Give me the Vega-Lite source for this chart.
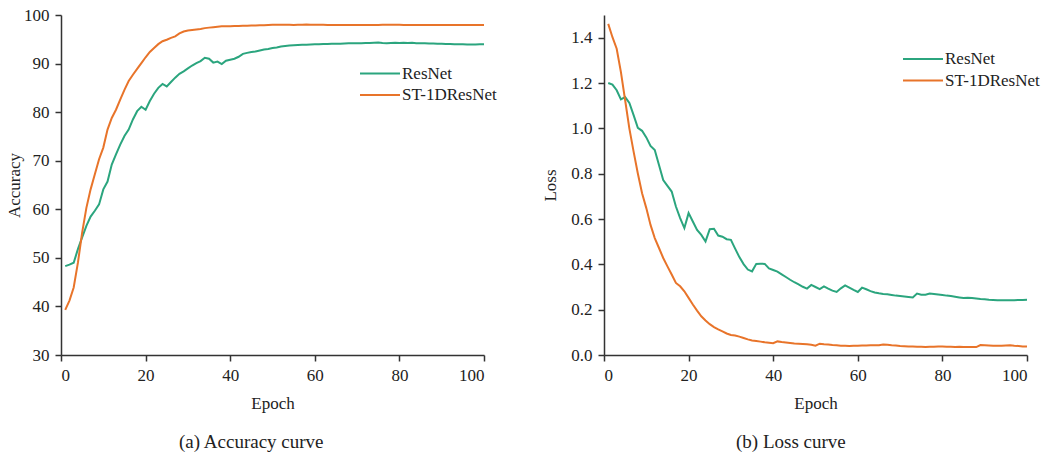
{
"$schema": "https://vega.github.io/schema/vega-lite/v6.json",
"background": "white",
"padding": {"left": 5, "top": 6, "right": 5, "bottom": 5},
"config": {
 "font": "Liberation Serif",
 "view": {"stroke": null},
 "axis": {"grid": false, "domainColor": "#333", "tickColor": "#333", "domainWidth": 1.5, "tickWidth": 1.5, "tickSize": 6, "labelFont": "Liberation Serif", "labelFontSize": 17, "labelColor": "#222", "titleFont": "Liberation Serif", "titleFontSize": 17, "titleFontWeight": "normal", "titleColor": "#222", "labelPadding": 6},
 "legend": {"title": null, "symbolType": "stroke", "symbolSize": 1600, "symbolStrokeWidth": 2, "clipHeight": 20, "rowPadding": 1.5, "labelOffset": 1, "labelFontSize": 17, "labelFont": "Liberation Serif", "labelColor": "#222", "padding": 0},
 "title": {"font": "Liberation Serif", "fontSize": 19, "fontWeight": "normal", "color": "#222"}
},
"datasets": {"d": [
{"epoch":1,"model":"ResNet","acc":48.3,"loss":1.200},{"epoch":2,"model":"ResNet","acc":48.6,"loss":1.193},{"epoch":3,"model":"ResNet","acc":49.0,"loss":1.168},{"epoch":4,"model":"ResNet","acc":51.8,"loss":1.128},{"epoch":5,"model":"ResNet","acc":54.2,"loss":1.138},{"epoch":6,"model":"ResNet","acc":56.6,"loss":1.112},{"epoch":7,"model":"ResNet","acc":58.5,"loss":1.058},{"epoch":8,"model":"ResNet","acc":59.7,"loss":1.002},{"epoch":9,"model":"ResNet","acc":61.0,"loss":0.989},{"epoch":10,"model":"ResNet","acc":64.1,"loss":0.960},
{"epoch":11,"model":"ResNet","acc":65.7,"loss":0.922},{"epoch":12,"model":"ResNet","acc":69.2,"loss":0.904},{"epoch":13,"model":"ResNet","acc":71.3,"loss":0.838},{"epoch":14,"model":"ResNet","acc":73.3,"loss":0.772},{"epoch":15,"model":"ResNet","acc":75.1,"loss":0.746},{"epoch":16,"model":"ResNet","acc":76.4,"loss":0.721},{"epoch":17,"model":"ResNet","acc":78.5,"loss":0.655},{"epoch":18,"model":"ResNet","acc":80.2,"loss":0.604},{"epoch":19,"model":"ResNet","acc":81.1,"loss":0.560},{"epoch":20,"model":"ResNet","acc":80.5,"loss":0.626},
{"epoch":21,"model":"ResNet","acc":82.3,"loss":0.589},{"epoch":22,"model":"ResNet","acc":83.8,"loss":0.552},{"epoch":23,"model":"ResNet","acc":85.0,"loss":0.530},{"epoch":24,"model":"ResNet","acc":85.8,"loss":0.501},{"epoch":25,"model":"ResNet","acc":85.3,"loss":0.555},{"epoch":26,"model":"ResNet","acc":86.2,"loss":0.557},{"epoch":27,"model":"ResNet","acc":87.1,"loss":0.527},{"epoch":28,"model":"ResNet","acc":87.9,"loss":0.522},{"epoch":29,"model":"ResNet","acc":88.4,"loss":0.511},{"epoch":30,"model":"ResNet","acc":89.0,"loss":0.508},
{"epoch":31,"model":"ResNet","acc":89.6,"loss":0.469},{"epoch":32,"model":"ResNet","acc":90.1,"loss":0.432},{"epoch":33,"model":"ResNet","acc":90.5,"loss":0.401},{"epoch":34,"model":"ResNet","acc":91.2,"loss":0.377},{"epoch":35,"model":"ResNet","acc":91.0,"loss":0.369},{"epoch":36,"model":"ResNet","acc":90.2,"loss":0.402},{"epoch":37,"model":"ResNet","acc":90.4,"loss":0.403},{"epoch":38,"model":"ResNet","acc":89.9,"loss":0.402},{"epoch":39,"model":"ResNet","acc":90.6,"loss":0.382},{"epoch":40,"model":"ResNet","acc":90.8,"loss":0.375},
{"epoch":41,"model":"ResNet","acc":91.0,"loss":0.368},{"epoch":42,"model":"ResNet","acc":91.4,"loss":0.356},{"epoch":43,"model":"ResNet","acc":92.0,"loss":0.344},{"epoch":44,"model":"ResNet","acc":92.2,"loss":0.332},{"epoch":45,"model":"ResNet","acc":92.4,"loss":0.321},{"epoch":46,"model":"ResNet","acc":92.5,"loss":0.312},{"epoch":47,"model":"ResNet","acc":92.7,"loss":0.301},{"epoch":48,"model":"ResNet","acc":92.9,"loss":0.293},{"epoch":49,"model":"ResNet","acc":93.0,"loss":0.309},{"epoch":50,"model":"ResNet","acc":93.2,"loss":0.300},
{"epoch":51,"model":"ResNet","acc":93.3,"loss":0.291},{"epoch":52,"model":"ResNet","acc":93.5,"loss":0.303},{"epoch":53,"model":"ResNet","acc":93.6,"loss":0.293},{"epoch":54,"model":"ResNet","acc":93.7,"loss":0.284},{"epoch":55,"model":"ResNet","acc":93.75,"loss":0.278},{"epoch":56,"model":"ResNet","acc":93.8,"loss":0.294},{"epoch":57,"model":"ResNet","acc":93.85,"loss":0.307},{"epoch":58,"model":"ResNet","acc":93.9,"loss":0.297},{"epoch":59,"model":"ResNet","acc":93.95,"loss":0.287},{"epoch":60,"model":"ResNet","acc":94.0,"loss":0.278},
{"epoch":61,"model":"ResNet","acc":94.0,"loss":0.297},{"epoch":62,"model":"ResNet","acc":94.05,"loss":0.290},{"epoch":63,"model":"ResNet","acc":94.05,"loss":0.282},{"epoch":64,"model":"ResNet","acc":94.1,"loss":0.276},{"epoch":65,"model":"ResNet","acc":94.1,"loss":0.272},{"epoch":66,"model":"ResNet","acc":94.1,"loss":0.269},{"epoch":67,"model":"ResNet","acc":94.15,"loss":0.268},{"epoch":68,"model":"ResNet","acc":94.2,"loss":0.265},{"epoch":69,"model":"ResNet","acc":94.2,"loss":0.262},{"epoch":70,"model":"ResNet","acc":94.2,"loss":0.260},
{"epoch":71,"model":"ResNet","acc":94.2,"loss":0.258},{"epoch":72,"model":"ResNet","acc":94.25,"loss":0.256},{"epoch":73,"model":"ResNet","acc":94.25,"loss":0.254},{"epoch":74,"model":"ResNet","acc":94.3,"loss":0.271},{"epoch":75,"model":"ResNet","acc":94.35,"loss":0.266},{"epoch":76,"model":"ResNet","acc":94.25,"loss":0.266},{"epoch":77,"model":"ResNet","acc":94.2,"loss":0.271},{"epoch":78,"model":"ResNet","acc":94.25,"loss":0.269},{"epoch":79,"model":"ResNet","acc":94.3,"loss":0.267},{"epoch":80,"model":"ResNet","acc":94.25,"loss":0.265},
{"epoch":81,"model":"ResNet","acc":94.3,"loss":0.262},{"epoch":82,"model":"ResNet","acc":94.25,"loss":0.260},{"epoch":83,"model":"ResNet","acc":94.3,"loss":0.257},{"epoch":84,"model":"ResNet","acc":94.2,"loss":0.254},{"epoch":85,"model":"ResNet","acc":94.2,"loss":0.251},{"epoch":86,"model":"ResNet","acc":94.2,"loss":0.253},{"epoch":87,"model":"ResNet","acc":94.15,"loss":0.251},{"epoch":88,"model":"ResNet","acc":94.15,"loss":0.249},{"epoch":89,"model":"ResNet","acc":94.1,"loss":0.247},{"epoch":90,"model":"ResNet","acc":94.1,"loss":0.246},
{"epoch":91,"model":"ResNet","acc":94.05,"loss":0.244},{"epoch":92,"model":"ResNet","acc":94.05,"loss":0.243},{"epoch":93,"model":"ResNet","acc":94.0,"loss":0.242},{"epoch":94,"model":"ResNet","acc":94.0,"loss":0.242},{"epoch":95,"model":"ResNet","acc":94.0,"loss":0.241},{"epoch":96,"model":"ResNet","acc":93.95,"loss":0.241},{"epoch":97,"model":"ResNet","acc":93.95,"loss":0.242},{"epoch":98,"model":"ResNet","acc":93.95,"loss":0.243},{"epoch":99,"model":"ResNet","acc":94.0,"loss":0.243},{"epoch":100,"model":"ResNet","acc":94.0,"loss":0.244},
{"epoch":1,"model":"ST-1DResNet","acc":39.3,"loss":1.461},{"epoch":2,"model":"ST-1DResNet","acc":41.2,"loss":1.402},{"epoch":3,"model":"ST-1DResNet","acc":43.9,"loss":1.351},{"epoch":4,"model":"ST-1DResNet","acc":49.0,"loss":1.248},{"epoch":5,"model":"ST-1DResNet","acc":55.2,"loss":1.124},{"epoch":6,"model":"ST-1DResNet","acc":60.3,"loss":0.999},{"epoch":7,"model":"ST-1DResNet","acc":64.1,"loss":0.897},{"epoch":8,"model":"ST-1DResNet","acc":67.2,"loss":0.801},{"epoch":9,"model":"ST-1DResNet","acc":70.3,"loss":0.714},{"epoch":10,"model":"ST-1DResNet","acc":72.7,"loss":0.648},
{"epoch":11,"model":"ST-1DResNet","acc":76.4,"loss":0.574},{"epoch":12,"model":"ST-1DResNet","acc":78.8,"loss":0.516},{"epoch":13,"model":"ST-1DResNet","acc":80.5,"loss":0.472},{"epoch":14,"model":"ST-1DResNet","acc":82.6,"loss":0.428},{"epoch":15,"model":"ST-1DResNet","acc":84.6,"loss":0.391},{"epoch":16,"model":"ST-1DResNet","acc":86.4,"loss":0.355},{"epoch":17,"model":"ST-1DResNet","acc":87.7,"loss":0.318},{"epoch":18,"model":"ST-1DResNet","acc":88.9,"loss":0.303},{"epoch":19,"model":"ST-1DResNet","acc":90.1,"loss":0.281},{"epoch":20,"model":"ST-1DResNet","acc":91.3,"loss":0.252},
{"epoch":21,"model":"ST-1DResNet","acc":92.4,"loss":0.223},{"epoch":22,"model":"ST-1DResNet","acc":93.2,"loss":0.196},{"epoch":23,"model":"ST-1DResNet","acc":94.0,"loss":0.171},{"epoch":24,"model":"ST-1DResNet","acc":94.6,"loss":0.152},{"epoch":25,"model":"ST-1DResNet","acc":94.9,"loss":0.136},{"epoch":26,"model":"ST-1DResNet","acc":95.3,"loss":0.123},{"epoch":27,"model":"ST-1DResNet","acc":95.6,"loss":0.113},{"epoch":28,"model":"ST-1DResNet","acc":96.2,"loss":0.104},{"epoch":29,"model":"ST-1DResNet","acc":96.6,"loss":0.095},{"epoch":30,"model":"ST-1DResNet","acc":96.8,"loss":0.088},
{"epoch":31,"model":"ST-1DResNet","acc":96.9,"loss":0.086},{"epoch":32,"model":"ST-1DResNet","acc":97.0,"loss":0.081},{"epoch":33,"model":"ST-1DResNet","acc":97.1,"loss":0.075},{"epoch":34,"model":"ST-1DResNet","acc":97.3,"loss":0.069},{"epoch":35,"model":"ST-1DResNet","acc":97.4,"loss":0.064},{"epoch":36,"model":"ST-1DResNet","acc":97.5,"loss":0.062},{"epoch":37,"model":"ST-1DResNet","acc":97.6,"loss":0.059},{"epoch":38,"model":"ST-1DResNet","acc":97.7,"loss":0.056},{"epoch":39,"model":"ST-1DResNet","acc":97.7,"loss":0.054},{"epoch":40,"model":"ST-1DResNet","acc":97.7,"loss":0.052},
{"epoch":41,"model":"ST-1DResNet","acc":97.75,"loss":0.060},{"epoch":42,"model":"ST-1DResNet","acc":97.75,"loss":0.057},{"epoch":43,"model":"ST-1DResNet","acc":97.8,"loss":0.055},{"epoch":44,"model":"ST-1DResNet","acc":97.8,"loss":0.053},{"epoch":45,"model":"ST-1DResNet","acc":97.85,"loss":0.051},{"epoch":46,"model":"ST-1DResNet","acc":97.85,"loss":0.050},{"epoch":47,"model":"ST-1DResNet","acc":97.9,"loss":0.049},{"epoch":48,"model":"ST-1DResNet","acc":97.9,"loss":0.047},{"epoch":49,"model":"ST-1DResNet","acc":97.95,"loss":0.045},{"epoch":50,"model":"ST-1DResNet","acc":98.0,"loss":0.041},
{"epoch":51,"model":"ST-1DResNet","acc":98.0,"loss":0.050},{"epoch":52,"model":"ST-1DResNet","acc":98.0,"loss":0.047},{"epoch":53,"model":"ST-1DResNet","acc":98.0,"loss":0.046},{"epoch":54,"model":"ST-1DResNet","acc":98.0,"loss":0.044},{"epoch":55,"model":"ST-1DResNet","acc":97.95,"loss":0.043},{"epoch":56,"model":"ST-1DResNet","acc":98.0,"loss":0.041},{"epoch":57,"model":"ST-1DResNet","acc":98.0,"loss":0.041},{"epoch":58,"model":"ST-1DResNet","acc":98.05,"loss":0.040},{"epoch":59,"model":"ST-1DResNet","acc":98.0,"loss":0.041},{"epoch":60,"model":"ST-1DResNet","acc":98.0,"loss":0.041},
{"epoch":61,"model":"ST-1DResNet","acc":98.0,"loss":0.042},{"epoch":62,"model":"ST-1DResNet","acc":98.0,"loss":0.042},{"epoch":63,"model":"ST-1DResNet","acc":97.95,"loss":0.043},{"epoch":64,"model":"ST-1DResNet","acc":97.95,"loss":0.043},{"epoch":65,"model":"ST-1DResNet","acc":97.95,"loss":0.043},{"epoch":66,"model":"ST-1DResNet","acc":97.95,"loss":0.046},{"epoch":67,"model":"ST-1DResNet","acc":97.95,"loss":0.045},{"epoch":68,"model":"ST-1DResNet","acc":97.95,"loss":0.043},{"epoch":69,"model":"ST-1DResNet","acc":97.95,"loss":0.042},{"epoch":70,"model":"ST-1DResNet","acc":97.95,"loss":0.040},
{"epoch":71,"model":"ST-1DResNet","acc":97.95,"loss":0.039},{"epoch":72,"model":"ST-1DResNet","acc":97.95,"loss":0.038},{"epoch":73,"model":"ST-1DResNet","acc":97.95,"loss":0.037},{"epoch":74,"model":"ST-1DResNet","acc":97.95,"loss":0.036},{"epoch":75,"model":"ST-1DResNet","acc":97.95,"loss":0.036},{"epoch":76,"model":"ST-1DResNet","acc":98.0,"loss":0.035},{"epoch":77,"model":"ST-1DResNet","acc":98.0,"loss":0.036},{"epoch":78,"model":"ST-1DResNet","acc":98.0,"loss":0.036},{"epoch":79,"model":"ST-1DResNet","acc":98.0,"loss":0.037},{"epoch":80,"model":"ST-1DResNet","acc":98.0,"loss":0.037},
{"epoch":81,"model":"ST-1DResNet","acc":97.95,"loss":0.036},{"epoch":82,"model":"ST-1DResNet","acc":97.95,"loss":0.036},{"epoch":83,"model":"ST-1DResNet","acc":97.95,"loss":0.035},{"epoch":84,"model":"ST-1DResNet","acc":97.95,"loss":0.036},{"epoch":85,"model":"ST-1DResNet","acc":97.95,"loss":0.035},{"epoch":86,"model":"ST-1DResNet","acc":97.95,"loss":0.035},{"epoch":87,"model":"ST-1DResNet","acc":97.95,"loss":0.035},{"epoch":88,"model":"ST-1DResNet","acc":97.95,"loss":0.035},{"epoch":89,"model":"ST-1DResNet","acc":97.95,"loss":0.044},{"epoch":90,"model":"ST-1DResNet","acc":97.95,"loss":0.043},
{"epoch":91,"model":"ST-1DResNet","acc":97.95,"loss":0.042},{"epoch":92,"model":"ST-1DResNet","acc":97.95,"loss":0.041},{"epoch":93,"model":"ST-1DResNet","acc":97.95,"loss":0.041},{"epoch":94,"model":"ST-1DResNet","acc":97.95,"loss":0.041},{"epoch":95,"model":"ST-1DResNet","acc":97.95,"loss":0.042},{"epoch":96,"model":"ST-1DResNet","acc":97.95,"loss":0.043},{"epoch":97,"model":"ST-1DResNet","acc":97.95,"loss":0.041},{"epoch":98,"model":"ST-1DResNet","acc":97.95,"loss":0.040},{"epoch":99,"model":"ST-1DResNet","acc":97.95,"loss":0.038},{"epoch":100,"model":"ST-1DResNet","acc":97.95,"loss":0.037}
]},
"bounds": "flush",
"spacing": 120,
"resolve": {"scale": {"color": "independent"}, "legend": {"color": "independent"}},
"hconcat": [
 {
  "width": 423, "height": 340,
  "data": {"name": "d"},
  "title": {"text": "(a) Accuracy curve", "orient": "bottom", "frame": "bounds", "anchor": "middle", "offset": 22},
  "mark": {"type": "line", "strokeWidth": 2},
  "encoding": {
   "x": {"field": "epoch", "type": "quantitative", "scale": {"domain": [0, 100]}, "axis": {"title": "Epoch", "values": [0, 20, 40, 60, 80, 100], "titlePadding": 12}},
   "y": {"field": "acc", "type": "quantitative", "scale": {"domain": [30, 100]}, "axis": {"title": "Accuracy", "values": [30, 40, 50, 60, 70, 80, 90, 100], "titlePadding": 0}},
   "color": {"field": "model", "type": "nominal", "scale": {"domain": ["ResNet", "ST-1DResNet"], "range": ["#2BA57E", "#E8742A"]}, "legend": {"orient": "none", "legendX": 298, "legendY": 48.5}}
  }
 },
 {
  "width": 423, "height": 340,
  "data": {"name": "d"},
  "title": {"text": "(b) Loss curve", "orient": "bottom", "frame": "bounds", "anchor": "middle", "offset": 22},
  "mark": {"type": "line", "strokeWidth": 2},
  "encoding": {
   "x": {"field": "epoch", "type": "quantitative", "scale": {"domain": [0, 100]}, "axis": {"title": "Epoch", "values": [0, 20, 40, 60, 80, 100], "titlePadding": 12}},
   "y": {"field": "loss", "type": "quantitative", "scale": {"domain": [0, 1.5]}, "axis": {"title": "Loss", "values": [0, 0.2, 0.4, 0.6, 0.8, 1.0, 1.2, 1.4], "format": ".1f", "titlePadding": 11}},
   "color": {"field": "model", "type": "nominal", "scale": {"domain": ["ResNet", "ST-1DResNet"], "range": ["#2BA57E", "#E8742A"]}, "legend": {"orient": "none", "legendX": 298, "legendY": 34}}
  }
 }
]
}
